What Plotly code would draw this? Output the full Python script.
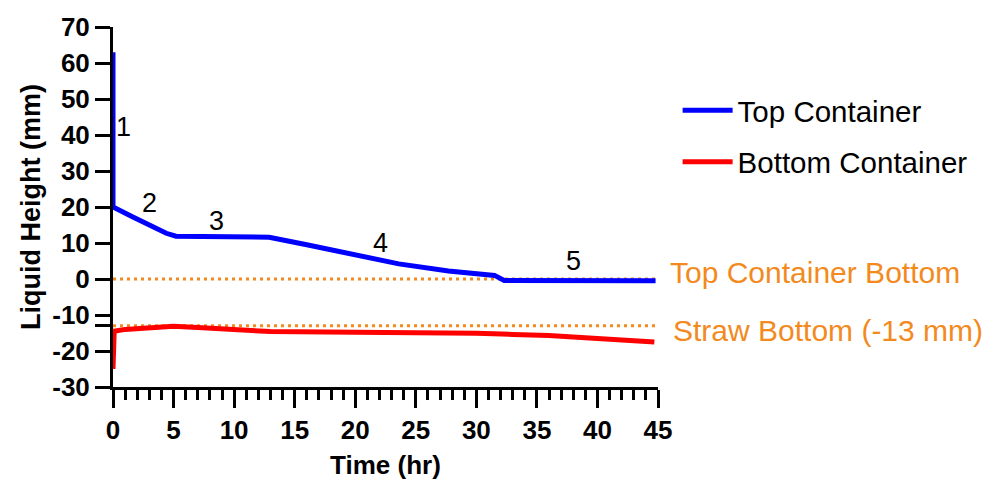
import plotly.graph_objects as go

# Liquid level in each container over time (hours, mm)
top_time = [0, 0, 1.6, 4.4, 5.2, 9.0, 12.9, 16.0, 19.5, 23.6, 27.7, 31.5, 32.3, 38.0, 44.8]
top_height = [63, 20, 17.3, 12.7, 11.9, 11.9, 11.6, 9.5, 7.2, 4.2, 2.2, 1.0, -0.4, -0.45, -0.5]

bottom_time = [0, 0.1, 1, 3, 5, 7, 10, 13, 20, 25, 30, 33, 36, 40, 44.7]
bottom_height = [-25, -14.5, -14.0, -13.4, -13.1, -13.5, -14.2, -14.6, -14.8, -14.8, -15.1, -15.4, -15.7, -16.5, -17.5]

# Reference levels
ref_time = [0, 45]
top_container_bottom = 0
straw_bottom = -13

# Phase labels
phase_labels = ["1", "2", "3", "4", "5"]
phase_time = [0.9, 3.0, 8.55, 22.1, 38.0]
phase_height = [42.3, 21.1, 16.0, 10.0, 4.9]

y_ticks = [-30, -20, -13, -10, 0, 10, 20, 30, 40, 50, 60, 70]
y_tick_text = ["-30", "-20", "", "-10", "0", "10", "20", "30", "40", "50", "60", "70"]
x_ticks = [0, 5, 10, 15, 20, 25, 30, 35, 40, 45]

ORANGE = "#F28A1E"
FONT = "Arial, Liberation Sans, sans-serif"

fig = go.Figure()

for level in (top_container_bottom, straw_bottom):
    fig.add_trace(go.Scatter(
        x=ref_time, y=[level, level], mode="lines",
        line=dict(color=ORANGE, width=3, dash="3px,4px"),
        showlegend=False, hoverinfo="skip",
    ))

fig.add_trace(go.Scatter(
    x=top_time, y=top_height, mode="lines", name="Top Container",
    line=dict(color="#0000FF", width=5), legendgroup="a",
))
fig.add_trace(go.Scatter(
    x=bottom_time, y=bottom_height, mode="lines", name="Bottom Container",
    line=dict(color="#FF0000", width=5), legendgroup="b",
))

for lbl, t, h in zip(phase_labels, phase_time, phase_height):
    fig.add_annotation(x=t, y=h, text=lbl, showarrow=False,
                       font=dict(family=FONT, size=27, color="black"))

fig.add_annotation(xref="paper", x=1.018, y=1.9, text="Top Container Bottom",
                   showarrow=False, xanchor="left", yanchor="middle",
                   font=dict(family=FONT, size=30, color=ORANGE))
fig.add_annotation(xref="paper", x=1.024, y=-14.4, text="Straw Bottom (-13 mm)",
                   showarrow=False, xanchor="left", yanchor="middle",
                   font=dict(family=FONT, size=30, color=ORANGE))

fig.update_layout(
    width=985, height=492,
    margin=dict(l=113, r=325, t=18, b=105),
    paper_bgcolor="white", plot_bgcolor="white",
    font=dict(family=FONT, color="black"),
    legend=dict(
        x=1.036, y=0.84, xanchor="left", yanchor="top",
        font=dict(family=FONT, size=29.5, color="black"),
        traceorder="grouped", tracegroupgap=10, itemwidth=50,
        bgcolor="rgba(0,0,0,0)",
    ),
    xaxis=dict(
        range=[0, 45], tickvals=x_ticks, ticks="outside", ticklen=18, tickwidth=3,
        tickcolor="black", showline=True, linecolor="black", linewidth=3,
        showgrid=False, zeroline=False, layer="below traces",
        minor=dict(dtick=1, ticks="outside", ticklen=10, tickwidth=3, tickcolor="black", showgrid=False),
        tickfont=dict(family=FONT, size=26, color="black", weight="bold"),
        title=dict(text="<b>Time (hr)</b>", font=dict(family=FONT, size=26, color="black"), standoff=12),
    ),
    yaxis=dict(
        range=[-30, 70], tickvals=y_ticks, ticktext=y_tick_text, ticks="outside",
        ticklen=15, tickwidth=3, tickcolor="black",
        showline=True, linecolor="black", linewidth=3,
        showgrid=False, zeroline=False, layer="below traces",
        tickfont=dict(family=FONT, size=26, color="black", weight="bold"),
        title=dict(text="<b>Liquid Height (mm)</b>", font=dict(family=FONT, size=27, color="black"), standoff=4),
    ),
)

fig.write_html("out.html")
